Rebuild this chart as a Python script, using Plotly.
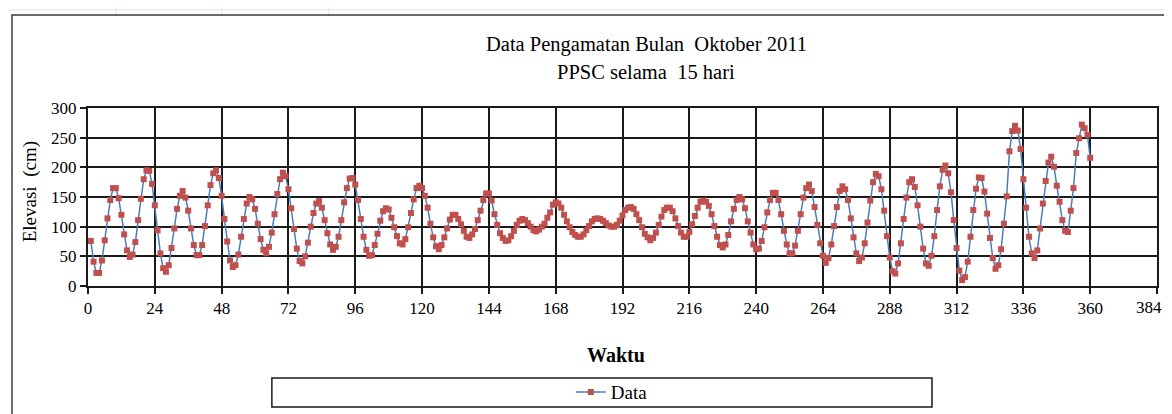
import plotly.graph_objects as go

# Hourly water level (cm), 15 days x 24 hours
hari_1 = [76, 41, 22, 22, 43, 77, 114, 145, 165, 165, 148, 120, 87, 60, 49, 53, 74, 111, 147, 180, 195, 194, 172, 136]
hari_2 = [94, 55, 30, 24, 35, 64, 97, 130, 152, 160, 149, 127, 97, 69, 52, 52, 69, 101, 136, 170, 190, 195, 182, 152]
hari_3 = [113, 75, 43, 32, 35, 53, 83, 113, 139, 150, 146, 130, 105, 79, 61, 55, 66, 90, 121, 155, 180, 191, 185, 163]
hari_4 = [131, 96, 63, 42, 38, 50, 73, 100, 123, 139, 143, 132, 111, 89, 70, 61, 66, 83, 111, 141, 165, 181, 182, 171]
hari_5 = [145, 113, 83, 61, 51, 52, 69, 88, 110, 126, 131, 129, 115, 99, 84, 72, 70, 79, 99, 123, 146, 165, 169, 165]
hari_6 = [152, 132, 105, 82, 67, 62, 69, 82, 97, 112, 120, 120, 113, 104, 93, 83, 81, 87, 96, 111, 127, 145, 156, 156]
hari_7 = [144, 121, 103, 89, 81, 76, 77, 84, 93, 103, 110, 113, 111, 106, 100, 94, 92, 95, 100, 105, 115, 124, 137, 141]
hari_8 = [139, 132, 120, 109, 99, 91, 86, 83, 83, 87, 94, 101, 109, 113, 114, 113, 110, 106, 102, 100, 100, 103, 110, 119]
hari_9 = [128, 132, 133, 130, 121, 111, 99, 88, 82, 77, 81, 90, 103, 117, 128, 132, 132, 126, 114, 101, 90, 83, 83, 91]
hari_10 = [104, 118, 132, 142, 144, 142, 135, 121, 101, 83, 69, 65, 70, 86, 109, 130, 145, 150, 146, 131, 109, 90, 70, 62]
hari_11 = [63, 76, 99, 124, 145, 157, 157, 145, 121, 93, 70, 55, 55, 68, 93, 121, 149, 165, 171, 160, 133, 103, 72, 51]
hari_12 = [39, 47, 70, 101, 133, 160, 168, 163, 145, 114, 82, 55, 42, 48, 72, 107, 144, 175, 189, 185, 163, 127, 84, 48]
hari_13 = [25, 21, 38, 72, 113, 149, 175, 180, 167, 136, 100, 63, 38, 34, 51, 84, 128, 168, 196, 203, 190, 158, 111, 64]
hari_14 = [26, 10, 15, 41, 83, 128, 164, 183, 182, 159, 122, 81, 47, 29, 35, 62, 105, 151, 227, 261, 270, 262, 231, 180]
hari_15 = [132, 83, 55, 47, 60, 97, 139, 177, 208, 218, 201, 169, 142, 111, 93, 91, 127, 165, 224, 249, 272, 266, 255, 216]

elevasi = (hari_1 + hari_2 + hari_3 + hari_4 + hari_5 + hari_6 + hari_7 + hari_8
           + hari_9 + hari_10 + hari_11 + hari_12 + hari_13 + hari_14 + hari_15)
waktu = list(range(1, len(elevasi) + 1))

# x ticks every 24 hours; the last label is drawn separately so it is not clipped
x_ticks = list(range(0, 385, 24))
x_labels = [str(t) for t in x_ticks[:-1]] + ['']

serif = "Liberation Serif"

fig = go.Figure()
fig.add_trace(go.Scatter(
    x=waktu, y=elevasi, mode='lines+markers', name='Data',
    line=dict(color='#4A7EBB', width=1.5),
    marker=dict(symbol='square', size=6, color='#C0504D'),
))

# the page body adds 8px on the left and top, margins account for it
fig.update_layout(
    width=1164, height=414,
    margin=dict(l=80, r=15, t=100, b=136, autoexpand=False),
    paper_bgcolor='white', plot_bgcolor='white',
    font=dict(family=serif, size=16, color='black'),
    showlegend=True,
    legend=dict(orientation='h', xref='paper', yref='paper',
                x=0.49, y=-0.596, xanchor='center', yanchor='middle',
                bgcolor='rgba(0,0,0,0)', font=dict(family=serif, size=19)),
)

fig.update_xaxes(
    range=[0, 384], tickvals=x_ticks, ticktext=x_labels, automargin=False,
    showgrid=True, gridcolor='#1a1a1a', gridwidth=2,
    showline=True, linecolor='#1a1a1a', linewidth=2, mirror=True,
    zeroline=False, ticks='outside', ticklen=6, tickcolor='#1a1a1a', tickwidth=2,
    tickfont=dict(family=serif, size=17),
)
fig.update_yaxes(
    range=[0, 300], tick0=0, dtick=50, automargin=False,
    showgrid=True, gridcolor='#1a1a1a', gridwidth=2,
    showline=True, linecolor='#1a1a1a', linewidth=2, mirror=True,
    zeroline=False, ticks='outside', ticklen=6, tickcolor='#1a1a1a', tickwidth=2,
    tickfont=dict(family=serif, size=17),
)

fig.add_annotation(text=str(x_ticks[-1]), xref='paper', yref='paper',
                   x=1.0066, y=-0.118, xanchor='right', yanchor='middle', showarrow=False,
                   font=dict(family=serif, size=17))

# titles
fig.add_annotation(text='Data Pengamatan Bulan  Oktober 2011', xref='paper', yref='paper',
                   x=0.522, y=1.354, xanchor='center', yanchor='middle', showarrow=False,
                   font=dict(family=serif, size=20.5))
fig.add_annotation(text='PPSC selama  15 hari', xref='paper', yref='paper',
                   x=0.522, y=1.202, xanchor='center', yanchor='middle', showarrow=False,
                   font=dict(family=serif, size=20.5))
fig.add_annotation(text='Elevasi  (cm)', xref='paper', yref='paper', textangle=-90,
                   x=-0.054, y=0.528, xanchor='center', yanchor='middle', showarrow=False,
                   font=dict(family=serif, size=19))
fig.add_annotation(text='<b>Waktu</b>', xref='paper', yref='paper',
                   x=0.494, y=-0.388, xanchor='center', yanchor='middle', showarrow=False,
                   font=dict(family=serif, size=20))

# spreadsheet cell lines behind the chart
cell = '#dfe4ee'
fig.add_shape(type='line', xref='paper', yref='paper', x0=-0.1, x1=1.1, y0=1.551, y1=1.551,
              line=dict(color=cell, width=1), layer='below')
for px in [116, 222, 329]:
    xp = (px - 88) / 1069
    fig.add_shape(type='line', xref='paper', yref='paper', x0=xp, x1=xp, y0=1.52, y1=1.62,
                  line=dict(color=cell, width=1), layer='below')

# chart area border
fig.add_shape(type='rect', xref='paper', yref='paper', x0=-0.0711, x1=1.2, y0=-1.0, y1=1.5225,
              line=dict(color='#3a3a3a', width=1.5), layer='below')

# legend box
fig.add_shape(type='rect', xref='paper', yref='paper', x0=0.172, x1=0.7895, y0=-0.680, y1=-0.517,
              line=dict(color='#1a1a1a', width=1.5))

fig.write_html("out.html", post_script=(
    "document.documentElement.style.overflow = 'hidden';"
    "document.body.style.overflow = 'hidden';"))
